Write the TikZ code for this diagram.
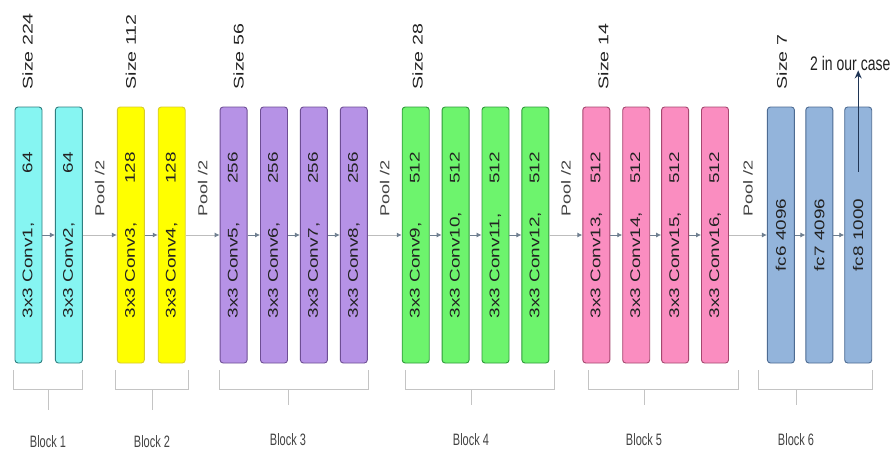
\documentclass[tikz,border=0pt]{standalone}
\usepackage{fontspec}
\setmainfont{Liberation Sans}
\usetikzlibrary{positioning,arrows.meta,calc}
\definecolor{cyanFill}{HTML}{86F5F2}
\definecolor{cyanLine}{HTML}{2F7F80}
\definecolor{yelFill}{HTML}{FFFF00}
\definecolor{yelLine}{HTML}{D8CB2A}
\definecolor{purFill}{HTML}{B692E6}
\definecolor{purLine}{HTML}{6E4E94}
\definecolor{grnFill}{HTML}{6DF46D}
\definecolor{grnLine}{HTML}{2F9A3A}
\definecolor{pnkFill}{HTML}{FA8DC0}
\definecolor{pnkLine}{HTML}{A5476F}
\definecolor{bluFill}{HTML}{93B4DB}
\definecolor{bluLine}{HTML}{4D6B92}
\definecolor{arrGray}{HTML}{6F7F90}
\definecolor{poolGray}{HTML}{BDBDBD}
\definecolor{brkGray}{HTML}{C4C4C4}
\definecolor{txtDark}{HTML}{222222}
\definecolor{outBlue}{HTML}{1F3555}

\newcommand{\convtext}[2]{\rotatebox{90}{\scalebox{1.35}[1]{\makebox[123pt]{#1\hfill #2}}}}
\newcommand{\fctext}[1]{\rotatebox{90}{\scalebox{1.35}[1]{#1}}}

\tikzset{
  layer/.style={draw, line width=0.9pt, rounded corners=3pt, minimum width=27pt,
    minimum height=256pt, inner sep=0pt, text=txtDark, font=\fontsize{14}{16}\selectfont},
  b1box/.style={layer, fill=cyanFill, draw=cyanLine},
  b2box/.style={layer, fill=yelFill, draw=yelLine},
  b3box/.style={layer, fill=purFill, draw=purLine},
  b4box/.style={layer, fill=grnFill, draw=grnLine},
  b5box/.style={layer, fill=pnkFill, draw=pnkLine},
  b6box/.style={layer, fill=bluFill, draw=bluLine},
  inarr/.style={draw=arrGray, line width=0.8pt, -{Latex[length=5pt,width=5pt]}},
  poolarr/.style={draw=poolGray, line width=0.9pt, -{Latex[length=5pt,width=5pt,color=arrGray]}},
  sizelbl/.style={rotate=90, anchor=west, inner sep=0pt, text=txtDark,
    font=\fontsize{14}{16}\selectfont},
  poollbl/.style={rotate=90, anchor=west, inner sep=0pt, text=txtDark!85,
    font=\fontsize{13}{15}\selectfont},
  bracket/.style={draw=brkGray, line width=0.9pt},
  blocklbl/.style={inner sep=0pt, text=txtDark!85, font=\fontsize{11}{13}\selectfont}
}

\begin{document}
\begin{tikzpicture}[x=1pt,y=-1pt]
  \useasboundingbox[fill=white] (0,0) rectangle (896,450);

  % block 1
  \node[b1box] (c1) at (28.5,235) {\convtext{3x3 Conv1,}{64}};
  \node[b1box, right=12.5pt of c1] (c2) {\convtext{3x3 Conv2,}{64}};
  % block 2
  \node[b2box, right=34pt of c2] (c3) {\convtext{3x3 Conv3,}{128}};
  \node[b2box, right=13pt of c3] (c4) {\convtext{3x3 Conv4,}{128}};
  % block 3
  \node[b3box, right=34pt of c4] (c5) {\convtext{3x3 Conv5,}{256}};
  \node[b3box, right=12.5pt of c5] (c6) {\convtext{3x3 Conv6,}{256}};
  \node[b3box, right=12pt of c6] (c7) {\convtext{3x3 Conv7,}{256}};
  \node[b3box, right=12pt of c7] (c8) {\convtext{3x3 Conv8,}{256}};
  % block 4
  \node[b4box, right=34pt of c8] (c9) {\convtext{3x3 Conv9,}{512}};
  \node[b4box, right=12pt of c9] (c10) {\convtext{3x3 Conv10,}{512}};
  \node[b4box, right=12pt of c10] (c11) {\convtext{3x3 Conv11,}{512}};
  \node[b4box, right=12pt of c11] (c12) {\convtext{3x3 Conv12,}{512}};
  % block 5
  \node[b5box, right=33pt of c12] (c13) {\convtext{3x3 Conv13,}{512}};
  \node[b5box, right=12pt of c13] (c14) {\convtext{3x3 Conv14,}{512}};
  \node[b5box, right=11pt of c14] (c15) {\convtext{3x3 Conv15,}{512}};
  \node[b5box, right=12pt of c15] (c16) {\convtext{3x3 Conv16,}{512}};
  % block 6
  \node[b6box, right=38pt of c16] (fc6) {\fctext{fc6 4096}};
  \node[b6box, right=10.5pt of fc6] (fc7) {\fctext{fc7 4096}};
  \node[b6box, right=11pt of fc7] (fc8) {\fctext{fc8 1000}};

  % arrows
  \draw[inarr] (c1) -- (c2);
  \draw[poolarr] (c2) -- (c3);
  \draw[inarr] (c3) -- (c4);
  \draw[poolarr] (c4) -- (c5);
  \draw[inarr] (c5) -- (c6);
  \draw[inarr] (c6) -- (c7);
  \draw[inarr] (c7) -- (c8);
  \draw[poolarr] (c8) -- (c9);
  \draw[inarr] (c9) -- (c10);
  \draw[inarr] (c10) -- (c11);
  \draw[inarr] (c11) -- (c12);
  \draw[poolarr] (c12) -- (c13);
  \draw[inarr] (c13) -- (c14);
  \draw[inarr] (c14) -- (c15);
  \draw[inarr] (c15) -- (c16);
  \draw[poolarr] (c16) -- (fc6);
  \draw[inarr] (fc6) -- (fc7);
  \draw[inarr] (fc7) -- (fc8);

  % pool labels
  \node[poollbl] (p1) at ($(c2.east)!0.5!(c3.west)+(0,-18)$) {\scalebox{1.4}[1]{Pool /2}};
  \node[poollbl] (p2) at ($(c4.east)!0.5!(c5.west)+(0,-18)$) {\scalebox{1.4}[1]{Pool /2}};
  \node[poollbl] (p3) at ($(c8.east)!0.5!(c9.west)+(0,-18)$) {\scalebox{1.4}[1]{Pool /2}};
  \node[poollbl] (p4) at ($(c12.east)!0.5!(c13.west)+(0,-18)$) {\scalebox{1.4}[1]{Pool /2}};
  \node[poollbl] (p5) at ($(c16.east)!0.5!(fc6.west)+(0,-18)$) {\scalebox{1.4}[1]{Pool /2}};

  % size labels
  \node[sizelbl] (s1) at ([yshift=17pt,xshift=-1pt]c1.north) {\scalebox{1.4}[1]{Size 224}};
  \node[sizelbl] (s2) at ([yshift=17pt]c3.north) {\scalebox{1.4}[1]{Size 112}};
  \node[sizelbl] (s3) at ([yshift=17pt,xshift=5pt]c5.north) {\scalebox{1.4}[1]{Size 56}};
  \node[sizelbl] (s4) at ([yshift=17pt,xshift=2pt]c9.north) {\scalebox{1.4}[1]{Size 28}};
  \node[sizelbl] (s5) at ([yshift=17pt,xshift=7pt]c13.north) {\scalebox{1.4}[1]{Size 14}};
  \node[sizelbl] (s6) at ([yshift=17pt,xshift=1pt]fc6.north) {\scalebox{1.4}[1]{Size 7}};

  % output note
  \node[anchor=west, inner sep=0pt, text=txtDark, font=\fontsize{14}{16}\selectfont]
    (out) at (810,63) {\scalebox{1}[1.4]{2 in our case}};
  \coordinate (fcout) at ([yshift=-65pt]fc8.north);
  \draw[draw=outBlue, line width=1.3pt, -{Stealth[length=8pt,width=7pt]}]
    (fcout) -- (fcout |- out.south);

  % block brackets
  \draw[bracket] ([yshift=-7pt,xshift=-1pt]c1.south west) -- ++(0,19) -| ([yshift=-7pt]c2.south east);
  \draw[bracket] ([yshift=-7pt,xshift=-1pt]c3.south west) -- ++(0,19) -| ([yshift=-7pt,xshift=3pt]c4.south east);
  \draw[bracket] ([yshift=-7pt]c5.south west) -- ++(0,19) -| ([yshift=-7pt,xshift=1pt]c8.south east);
  \draw[bracket] ([yshift=-7pt,xshift=4pt]c9.south west) -- ++(0,19) -| ([yshift=-7pt,xshift=5pt]c12.south east);
  \draw[bracket] ([yshift=-7pt,xshift=6pt]c13.south west) -- ++(0,19) -| ([yshift=-7pt,xshift=9pt]c16.south east);
  \draw[bracket] ([yshift=-7pt,xshift=-9pt]fc6.south west) -- ++(0,19) -| ([yshift=-7pt]fc8.south east);

  % block labels
  \node[blocklbl] (k1) at (48,442) {\scalebox{1}[1.5]{Block 1}};
  \node[blocklbl] (k2) at (152,442) {\scalebox{1}[1.5]{Block 2}};
  \node[blocklbl] (k3) at (288,440) {\scalebox{1}[1.5]{Block 3}};
  \node[blocklbl] (k4) at (471,440) {\scalebox{1}[1.5]{Block 4}};
  \node[blocklbl] (k5) at (644,440) {\scalebox{1}[1.5]{Block 5}};
  \node[blocklbl] (k6) at (796,440) {\scalebox{1}[1.5]{Block 6}};
  \draw[bracket] (k1 |- 0,389) -- (k1 |- 0,410);
  \draw[bracket] (k2 |- 0,389) -- (k2 |- 0,410);
  \draw[bracket] (k3 |- 0,389) -- (k3 |- 0,405);
  \draw[bracket] (k4 |- 0,389) -- (k4 |- 0,405);
  \draw[bracket] (k5 |- 0,389) -- (k5 |- 0,405);
  \draw[bracket] (k6 |- 0,389) -- (k6 |- 0,405);
\end{tikzpicture}
\end{document}
